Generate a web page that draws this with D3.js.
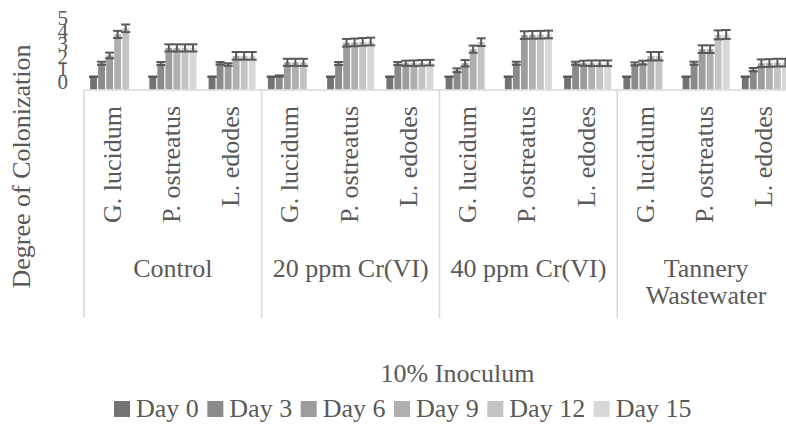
<!DOCTYPE html>
<html>
<head>
<meta charset="utf-8">
<script src="https://cdn.jsdelivr.net/npm/d3@7"></script>
<style>
  html, body { margin: 0; padding: 0; background: #fff; overflow: hidden; }
  svg { display: block; }
</style>
</head>
<body>
<svg id="chart" width="786" height="424"></svg>
<script>
// Treatments (outer category level) and fungi (inner category level)
const treatments = ["Control", "20 ppm Cr(VI)", "40 ppm Cr(VI)", "Tannery Wastewater"];
const fungi = ["G. lucidum", "P. ostreatus", "L. edodes"];
const days = ["Day 0", "Day 3", "Day 6", "Day 9", "Day 12", "Day 15"];
const yTicks = [0, 1, 2, 3, 4, 5];

// Mean degree of colonization, one entry per treatment × fungus (12), per sampling day
const day0  = [1, 1, 1, 1, 1, 1, 1, 1, 1, 1, 1, 1];
const day3  = [2.05, 2.03, 2.05, 1.05, 2.03, 2.03, 1.5, 2.05, 2.05, 2.0, 2.05, 1.55];
const day6  = [2.66, 3.25, 1.95, 2.12, 3.65, 2.05, 2.05, 4.25, 2.05, 2.1, 3.15, 2.05];
const day9  = [4.3, 3.25, 2.63, 2.12, 3.68, 2.05, 3.15, 4.27, 2.05, 2.6, 3.15, 2.07];
const day12 = [4.78, 3.25, 2.63, 2.12, 3.72, 2.08, 3.7, 4.28, 2.05, 2.6, 4.27, 2.1];
const day15 = [null, 3.25, 2.63, null, 3.75, 2.1, null, 4.3, 2.05, null, 4.3, 2.1];

// Standard deviations for the error bars
const err0  = [0, 0, 0, 0, 0, 0, 0, 0, 0, 0, 0, 0];
const err3  = [0.12, 0.12, 0.1, 0.05, 0.12, 0.12, 0.15, 0.12, 0.12, 0.12, 0.12, 0.13];
const err6  = [0.22, 0.28, 0.1, 0.28, 0.3, 0.2, 0.25, 0.3, 0.2, 0.15, 0.3, 0.3];
const err9  = [0.28, 0.28, 0.3, 0.28, 0.3, 0.22, 0.28, 0.3, 0.22, 0.33, 0.3, 0.3];
const err12 = [0.3, 0.28, 0.3, 0.28, 0.3, 0.22, 0.3, 0.3, 0.22, 0.33, 0.35, 0.3];
const err15 = [null, 0.28, 0.3, null, 0.3, 0.22, null, 0.3, 0.22, null, 0.35, 0.3];

const seriesValues = [day0, day3, day6, day9, day12, day15];
const seriesErrors = [err0, err3, err6, err9, err12, err15];
const colors = ["#737373", "#8a8a8a", "#9d9d9d", "#afafaf", "#c3c3c3", "#d7d7d7"];

const FONT = "'Liberation Serif', 'DejaVu Serif', serif";
const TEXT_COLOR = "#595959";

const svg = d3.select("#chart");

// Helper for every text element so the font is set explicitly on each one
function label(sel, size) {
  return sel.attr("font-family", FONT).style("font-family", FONT)
    .style("font-size", size + "px").attr("fill", TEXT_COLOR);
}

// Composite keys for the two-level category axis
const keys = [];
treatments.forEach(t => fungi.forEach(f => keys.push(t + "|" + f)));

const plotLeft = 84, plotRight = 795, baseY = 89.5;
const x0 = d3.scaleBand().domain(keys).range([plotLeft, plotRight]);
const clusterW = 47;
const x1 = d3.scaleBand().domain(days).range([0, clusterW]).paddingInner(0.15);
const y = d3.scaleLinear().domain([0, 5]).range([baseY, baseY - 64]);
const color = d3.scaleOrdinal().domain(days).range(colors);

// Value axis (labels only)
const yAxis = d3.axisLeft(y).tickValues(yTicks).tickFormat(d3.format("d")).tickSize(0).tickPadding(16);
const gy = svg.append("g").attr("transform", `translate(${plotLeft},0)`).call(yAxis);
gy.attr("font-family", FONT);
gy.select(".domain").remove();
label(gy.selectAll("text"), 21).attr("dy", "-0.04em");

// Bars
const bars = [];
days.forEach((d, si) => {
  keys.forEach((k, ci) => {
    const v = seriesValues[si][ci];
    if (v === null) return;
    bars.push({ day: d, key: k, value: v, err: seriesErrors[si][ci] });
  });
});
const clusterX = k => x0(k) + (x0.bandwidth() - clusterW) / 2;

svg.append("g").selectAll("rect")
  .data(bars)
  .join("rect")
  .attr("x", d => clusterX(d.key) + x1(d.day))
  .attr("y", d => y(d.value))
  .attr("width", x1.bandwidth())
  .attr("height", d => y(0) - y(d.value))
  .attr("fill", d => color(d.day));

// Error bars
const eg = svg.append("g").attr("stroke", "#595959").attr("stroke-width", 2);
const capW = 9;
bars.forEach(d => {
  const cx = clusterX(d.key) + x1(d.day) + x1.bandwidth() / 2;
  const yHi = y(d.value + d.err), yLo = y(d.value - d.err);
  eg.append("line").attr("x1", cx).attr("x2", cx).attr("y1", yHi).attr("y2", yLo);
  eg.append("line").attr("x1", cx - capW / 2).attr("x2", cx + capW / 2).attr("y1", yHi).attr("y2", yHi);
  eg.append("line").attr("x1", cx - capW / 2).attr("x2", cx + capW / 2).attr("y1", yLo).attr("y2", yLo);
});

// Category axis line and group separators
const axisG = svg.append("g").attr("stroke", "#d9d9d9").attr("stroke-width", 1.5);
axisG.append("line").attr("x1", plotLeft).attr("x2", plotRight).attr("y1", baseY + 0.5).attr("y2", baseY + 0.5);
const groupEdges = treatments.map(t => x0(t + "|" + fungi[0])).concat([plotRight]);
axisG.selectAll("line.sep")
  .data(groupEdges)
  .join("line")
  .attr("class", "sep")
  .attr("x1", d => d).attr("x2", d => d)
  .attr("y1", baseY).attr("y2", 318);

// Inner category labels (rotated)
label(svg.append("g").selectAll("text")
  .data(keys)
  .join("text")
  .attr("transform", k => `translate(${x0(k) + x0.bandwidth() / 2 + 7},106) rotate(-90)`)
  .attr("text-anchor", "end"), 26)
  .text(k => k.split("|")[1]);

// Outer category labels
const groupLabels = {
  "Control": ["Control"],
  "20 ppm Cr(VI)": ["20 ppm Cr(VI)"],
  "40 ppm Cr(VI)": ["40 ppm Cr(VI)"],
  "Tannery Wastewater": ["Tannery", "Wastewater"]
};
treatments.forEach(t => {
  const first = x0(t + "|" + fungi[0]);
  const last = x0(t + "|" + fungi[fungi.length - 1]) + x0.bandwidth();
  const cx = (first + last) / 2;
  const txt = label(svg.append("text")
    .attr("x", cx).attr("y", 277)
    .attr("text-anchor", "middle"), 26);
  groupLabels[t].forEach((line, i) => {
    txt.append("tspan").attr("x", cx).attr("dy", i === 0 ? 0 : 27).text(line);
  });
});

// Axis titles
label(svg.append("text")
  .attr("transform", "translate(30,166.5) rotate(-90)")
  .attr("text-anchor", "middle"), 26)
  .text("Degree of Colonization");

label(svg.append("text")
  .attr("x", 457.5).attr("y", 382)
  .attr("text-anchor", "middle"), 26)
  .text("10% Inoculum");

// Legend
const legend = svg.append("g");
let lx = 114;
days.forEach(d => {
  legend.append("rect")
    .attr("x", lx).attr("y", 401).attr("width", 16).attr("height", 16)
    .attr("fill", color(d));
  const t = label(legend.append("text")
    .attr("x", lx + 22).attr("y", 417), 26)
    .text(d);
  lx += 22 + t.node().getComputedTextLength() + 8.5;
});
</script>
</body>
</html>
